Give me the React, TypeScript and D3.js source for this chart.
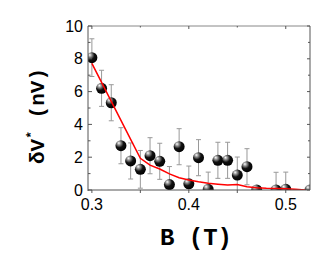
import React from "react";
import * as d3 from "d3";

// measured points: field B (T), signal dV* (nV), error half-width
const fieldB = [0.30, 0.31, 0.32, 0.33, 0.34, 0.35, 0.36, 0.37, 0.38, 0.39, 0.40, 0.41, 0.42, 0.43, 0.44, 0.45, 0.46, 0.47, 0.49, 0.50, 0.525];
const signalV = [8.07, 6.2, 5.32, 2.7, 1.77, 1.26, 2.09, 1.75, 0.33, 2.64, 0.38, 1.97, 0.04, 1.81, 1.81, 0.91, 1.42, 0.0, 0.0, 0.04, 0.0];
const errV = [1.15, 1.1, 1.1, 1.1, 1.1, 1.15, 1.1, 1.1, 1.1, 1.1, 1.08, 1.1, 1.05, 1.1, 1.1, 1.1, 1.1, 0, 1.08, 1.05, 0];

// model curve (red)
const modelB = [0.30, 0.31, 0.32, 0.33, 0.34, 0.35, 0.36, 0.37, 0.38, 0.39, 0.40, 0.41, 0.42, 0.43, 0.44, 0.45, 0.46, 0.47, 0.48, 0.49, 0.50, 0.51, 0.52];
const modelV = [7.72, 6.56, 5.40, 4.25, 3.09, 1.93, 1.52, 1.28, 0.98, 0.75, 0.61, 0.50, 0.41, 0.35, 0.30, 0.34, 0.20, 0.14, 0.10, 0.09, 0.08, 0.04, 0.0];

const xTickLabels = [0.3, 0.4, 0.5];
const yTickLabels = [0, 2, 4, 6, 8, 10];

const W = 327, H = 273;
const L = 88, R = 310, T = 26, B = 190;
const axisColor = "#555";
const monoFont = "'Liberation Mono', 'Cousine', 'Nimbus Mono PS', 'Nimbus Mono L', 'FreeMono', 'Courier New', Courier, monospace";

export default function App() {
  const x = d3.scaleLinear().domain([0.296, 0.525]).range([L, R]);
  const y = d3.scaleLinear().domain([0, 10]).range([B, T]);

  const line = d3.line<number>()
    .x((_, i) => x(modelB[i]))
    .y((d) => y(d));

  const xMinor = d3.range(0.30, 0.5201, 0.05);
  const yMinor = d3.range(0, 10.01, 1);

  return (
    <svg width={W} height={H} style={{ position: "absolute", left: 0, top: 0 }}>
      <defs>
        <clipPath id="plot">
          <rect x={L} y={T} width={R - L} height={B - T} />
        </clipPath>
        <radialGradient id="ball" cx="0.38" cy="0.32" r="0.7" fx="0.3" fy="0.25">
          <stop offset="0" stopColor="#fff" />
          <stop offset="0.22" stopColor="#999" />
          <stop offset="0.55" stopColor="#111" />
          <stop offset="1" stopColor="#000" />
        </radialGradient>
      </defs>

      <rect width={W} height={H} fill="#fff" />

      <g clipPath="url(#plot)">
        {fieldB.map((b, i) => errV[i] > 0 && (
          <g key={"e" + i} stroke="#999" strokeWidth={1}>
            <line x1={x(b)} x2={x(b)} y1={y(signalV[i] + errV[i])} y2={y(signalV[i] - errV[i])} />
            <line x1={x(b) - 2.5} x2={x(b) + 2.5} y1={y(signalV[i] + errV[i])} y2={y(signalV[i] + errV[i])} />
            <line x1={x(b) - 2.5} x2={x(b) + 2.5} y1={y(signalV[i] - errV[i])} y2={y(signalV[i] - errV[i])} />
          </g>
        ))}
        {fieldB.map((b, i) => (
          <circle key={"p" + i} cx={x(b)} cy={y(signalV[i])} r={5.5} fill="url(#ball)" />
        ))}
        <path d={line(modelV) || ""} fill="none" stroke="#ff0000" strokeWidth={1.5} />
      </g>

      {/* frame */}
      <g stroke={axisColor} strokeWidth={1} fill="none">
        <line x1={L} x2={R} y1={T} y2={T} stroke="#888" />
        <line x1={R} x2={R} y1={T} y2={B} />
        <line x1={L} x2={R} y1={B} y2={B} />
        <line x1={L} x2={L} y1={T} y2={B + 1} />
        {xMinor.map((v, i) => (
          <g key={"xt" + i}>
            <line x1={x(v)} x2={x(v)} y1={B} y2={B + 3} />
            <line x1={x(v)} x2={x(v)} y1={T} y2={T + (i % 2 === 0 ? 3 : 1.5)} />
          </g>
        ))}
        {yMinor.map((v, i) => (
          <g key={"yt" + i}>
            <line x1={L} x2={L + (i % 2 === 0 ? 4 : 2.5)} y1={y(v)} y2={y(v)} />
            <line x1={R} x2={R - (i % 2 === 0 ? 3 : 2)} y1={y(v)} y2={y(v)} />
          </g>
        ))}
      </g>

      <g fontFamily="'Liberation Sans', Arial, sans-serif" fontSize={16} fill="#000">
        {yTickLabels.map((v) => (
          <text key={"yl" + v} x={L - 5} y={y(v)} textAnchor="end" dominantBaseline="central">{v}</text>
        ))}
        {xTickLabels.map((v) => (
          <text key={"xl" + v} x={x(v)} y={210} textAnchor="middle">{d3.format(".1f")(v)}</text>
        ))}
      </g>

      <text x={196} y={245} textAnchor="middle" fontFamily={monoFont} fontWeight="bold" fontSize={24}>B (T)</text>

      <text transform="translate(44,116) rotate(-90)" textAnchor="middle" fontFamily={monoFont} fontWeight="bold" fontSize={21}>
        δV<tspan fontSize={13} dy={-9}>*</tspan><tspan dy={9}> (nV)</tspan>
      </text>
    </svg>
  );
}
